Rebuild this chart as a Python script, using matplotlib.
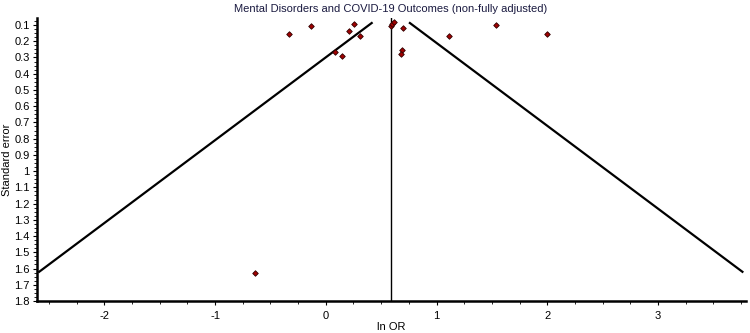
import matplotlib
matplotlib.use('Agg')
import matplotlib.pyplot as plt
import numpy as np
from matplotlib.ticker import MultipleLocator

plt.rcParams['font.family'] = ['Liberation Sans', 'DejaVu Sans']
plt.rcParams['axes.unicode_minus'] = False

title = 'Mental Disorders and COVID-19 Outcomes (non-fully adjusted)'

# study estimates (ln OR) and standard errors
ln_or = [-0.334, -0.136, 0.208, 0.259, 0.313, 0.081, 0.144,
         0.59, 0.60, 0.62, 0.70, 0.687, 0.68, 1.114, 1.538, 2.0, -0.641]
se = [0.157, 0.106, 0.139, 0.092, 0.166, 0.269, 0.291,
      0.106, 0.095, 0.081, 0.12, 0.254, 0.279, 0.166, 0.102, 0.157, 1.627]

pooled = 0.587
se_top = 0.088
se_bottom = 1.62

y_ticks = [0.1, 0.2, 0.3, 0.4, 0.5, 0.6, 0.7, 0.8, 0.9, 1.0,
           1.1, 1.2, 1.3, 1.4, 1.5, 1.6, 1.7, 1.8]
y_labels = ['0.1', '0.2', '0.3', '0.4', '0.5', '0.6', '0.7', '0.8', '0.9', '1',
            '1.1', '1.2', '1.3', '1.4', '1.5', '1.6', '1.7', '1.8']
x_ticks = [-2, -1, 0, 1, 2, 3]

fig = plt.figure(figsize=(7.5, 3.33), dpi=100)
ax = fig.add_axes([0.049, 0.096, 0.945, 0.85])

s = np.array([se_top, se_bottom])
ax.plot(pooled - 1.96 * s, s, color='black', lw=1.6)
ax.plot(pooled + 1.96 * s, s, color='black', lw=1.6)
ax.plot([pooled, pooled], [0.06, 1.8], color='black', lw=1.0)

ax.scatter(ln_or, se, marker='D', s=8, facecolor='#a00000',
           edgecolor='#300000', linewidths=0.6, zorder=3)

ax.set_xlim(-2.61, 3.79)
ax.set_ylim(1.8, 0.057)
ax.set_yticks(y_ticks)
ax.set_yticklabels(y_labels)
ax.set_xticks(x_ticks)
ax.xaxis.set_minor_locator(MultipleLocator(0.25))
ax.yaxis.set_minor_locator(MultipleLocator(0.025))

for side in ['top', 'right']:
    ax.spines[side].set_visible(False)
for side in ['left', 'bottom']:
    ax.spines[side].set_linewidth(1.8)

ax.tick_params(axis='both', which='major', labelsize=8, length=3, width=0.8,
               pad=2)
ax.tick_params(axis='x', which='major', pad=4)
ax.tick_params(axis='both', which='minor', length=2, width=0.6)

ax.set_title(title, fontsize=8, color='#1a1a40', pad=4)
ax.set_ylabel('Standard error', fontsize=8, labelpad=2)
ax.set_xlabel('ln OR', fontsize=8, labelpad=1)

fig.savefig('out.png', dpi=100)
